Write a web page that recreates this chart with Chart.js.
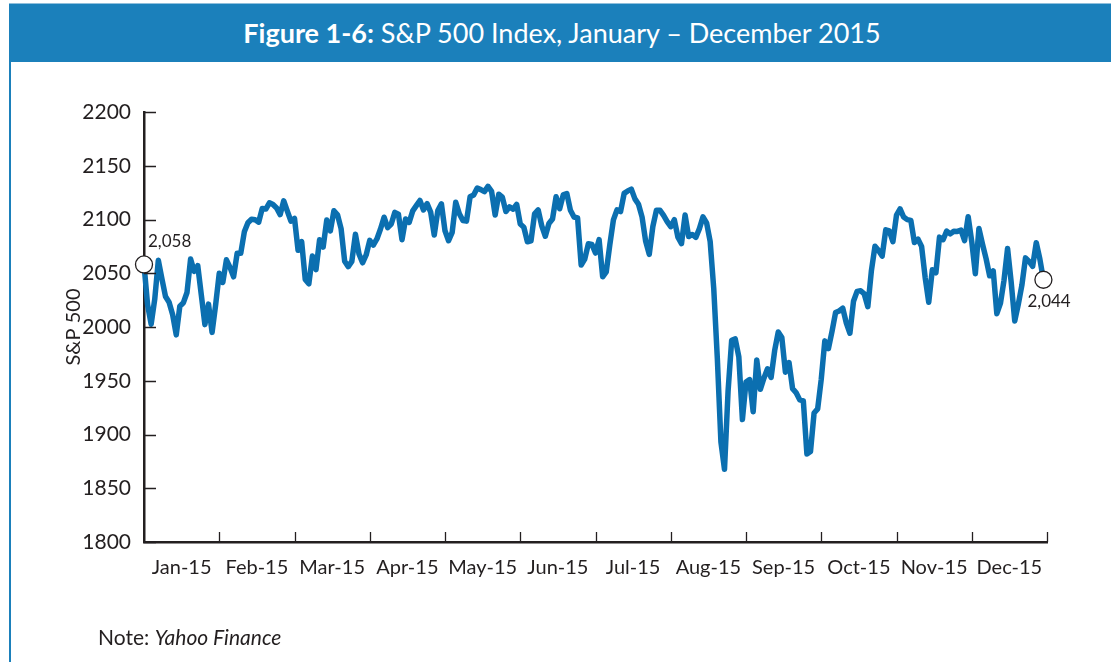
<!DOCTYPE html>
<html>
<head>
<meta charset="utf-8">
<script src="https://cdn.jsdelivr.net/npm/chart.js@4.4.1/dist/chart.umd.min.js"></script>
<style>
  html, body { margin: 0; padding: 0; background: #fff; }
  body { width: 1111px; height: 662px; position: relative; overflow: hidden; }
  #frame { position: absolute; left: 9px; top: 62px; width: 1.5px; height: 600px; background: #1b80bb; }
  #header {
    position: absolute; left: 9px; top: 3px; width: 1102px; height: 59px;
    background: #1b80bb; border-top: 1px solid #8fbfdc; box-sizing: border-box;
    color: #fff; font-family: Lato, sans-serif; font-size: 27px;
    text-align: center; line-height: 58px; padding-left: 4px;
  }
  #header b { font-weight: bold; }
  #wrap { position: absolute; left: 0; top: 62px; width: 1111px; height: 600px; }
  #note { position: absolute; left: 98px; top: 624px; font-family: Lato, sans-serif; font-size: 21px; color: #231f20; }
</style>
</head>
<body>
<div id="header"><b>Figure 1-6:</b> S&amp;P 500 Index, January – December 2015</div>
<div id="frame"></div>
<div id="wrap"><canvas id="chart" width="1111" height="600"></canvas></div>
<div id="note">Note: <i>Yahoo Finance</i></div>
<script>
// month labels, one every 21 trading days
const monthLabels = ['Jan-15', 'Feb-15', 'Mar-15', 'Apr-15', 'May-15', 'Jun-15',
  'Jul-15', 'Aug-15', 'Sep-15', 'Oct-15', 'Nov-15', 'Dec-15'];
const daysPerTick = 21;
const yTicks = [1800, 1850, 1900, 1950, 2000, 2050, 2100, 2150, 2200];

// daily closes
const jan = [2058.2, 2020.6, 2002.6, 2025.9, 2062.1, 2044.8, 2028.3, 2023.0, 2011.3, 1992.7,
  2019.4, 2022.6, 2032.1, 2063.2, 2051.8, 2057.1, 2029.6, 2002.2, 2021.3, 1995.0];
const feb = [2020.9, 2050.0, 2041.5, 2062.5, 2055.5, 2046.7, 2068.6, 2068.5, 2088.5, 2097.0,
  2100.3, 2099.7, 2097.5, 2110.3, 2109.7, 2115.5, 2113.9, 2110.7, 2104.5];
const mar = [2117.4, 2107.8, 2098.5, 2101.0, 2071.3, 2079.4, 2044.2, 2040.2, 2066.0, 2053.4,
  2081.2, 2074.3, 2099.5, 2089.3, 2108.1, 2104.4, 2091.5, 2061.1, 2056.2, 2061.0, 2086.2, 2067.9];
const apr = [2059.7, 2067.0, 2080.6, 2076.3, 2081.9, 2091.2, 2102.1, 2092.4, 2095.8, 2106.6,
  2105.0, 2081.2, 2100.4, 2097.3, 2108.0, 2112.9, 2117.7, 2108.9, 2114.8, 2106.9, 2085.5];
const may = [2108.3, 2114.5, 2089.5, 2080.2, 2088.0, 2116.1, 2105.3, 2099.1, 2098.5, 2121.1,
  2122.7, 2129.2, 2127.8, 2125.9, 2130.8, 2126.1, 2104.2, 2123.5, 2120.8, 2107.4];
const jun = [2111.7, 2109.6, 2114.1, 2095.8, 2092.8, 2079.3, 2080.2, 2105.2, 2108.9, 2094.1,
  2084.4, 2096.3, 2100.4, 2121.2, 2110.0, 2122.9, 2124.2, 2108.6, 2102.3, 2101.5, 2057.6, 2063.1];
const jul = [2077.4, 2076.8, 2068.8, 2081.3, 2046.7, 2051.3, 2076.6, 2099.6, 2109.0, 2107.4,
  2124.3, 2126.6, 2128.3, 2119.2, 2114.2, 2102.2, 2079.7, 2067.6, 2093.3, 2108.6, 2108.6, 2103.8];
const aug = [2098.0, 2093.3, 2099.8, 2083.6, 2077.6, 2104.2, 2084.1, 2086.1, 2083.4, 2091.5,
  2102.4, 2096.9, 2079.6, 2035.7, 1970.9, 1893.2, 1867.6, 1940.5, 1987.7, 1988.9, 1972.2];
const sep = [1913.9, 1948.9, 1951.1, 1921.2, 1969.4, 1942.0, 1952.3, 1961.1, 1953.0, 1978.1,
  1995.3, 1990.2, 1958.0, 1967.0, 1942.7, 1938.8, 1932.2, 1931.3, 1881.8, 1884.1, 1920.0];
const oct = [1923.8, 1951.4, 1987.1, 1979.9, 1995.8, 2013.4, 2014.9, 2017.5, 2003.7, 1994.2,
  2023.9, 2033.1, 2033.7, 2030.8, 2018.9, 2052.5, 2075.2, 2071.2, 2065.9, 2090.4, 2089.4, 2079.4];
const nov = [2104.1, 2109.8, 2102.3, 2099.9, 2099.2, 2078.6, 2081.7, 2075.0, 2046.0, 2023.0,
  2053.2, 2050.4, 2083.6, 2081.2, 2089.2, 2086.6, 2089.1, 2088.9, 2090.1, 2080.4];
const dec = [2102.6, 2079.5, 2049.6, 2091.7, 2077.1, 2063.6, 2047.6, 2052.2, 2012.4, 2021.9,
  2043.4, 2073.1, 2041.9, 2005.6, 2021.2, 2039.0, 2064.3, 2061.0, 2056.5, 2078.4, 2063.4, 2043.94];

const closes = [].concat(jan, feb, mar, apr, may, jun, jul, aug, sep, oct, nov, dec);
const points = closes.map((v, i) => ({ x: i, y: v }));
const lastIdx = closes.length - 1;

const ink = '#231f20';
const lineBlue = '#0b6fb0';
const labelFont = "Lato, sans-serif";

// inward tick marks plus the two end labels
const extras = {
  id: 'extras',
  afterDatasetsDraw(chart) {
    const { ctx, chartArea, scales: { x, y } } = chart;
    ctx.save();
    ctx.strokeStyle = ink;
    ctx.lineWidth = 1.3;
    ctx.beginPath();
    for (let k = 1; k <= monthLabels.length; k++) {
      const px = Math.round(x.getPixelForValue(k * daysPerTick)) + 0.5;
      ctx.moveTo(px, chartArea.bottom);
      ctx.lineTo(px, chartArea.bottom - 10);
    }
    yTicks.forEach(v => {
      const py = Math.round(y.getPixelForValue(v)) + 0.5;
      ctx.moveTo(chartArea.left, py);
      ctx.lineTo(chartArea.left + 12, py);
    });
    ctx.stroke();

    ctx.fillStyle = ink;
    ctx.font = "17px Lato, sans-serif";
    ctx.textBaseline = 'middle';
    const fmt = v => Math.round(v).toLocaleString('en-US');
    const meta = chart.getDatasetMeta(0).data;
    const p0 = meta[0], p1 = meta[lastIdx];
    ctx.textAlign = 'left';
    ctx.fillText(fmt(closes[0]), p0.x + 4, p0.y - 23);
    ctx.fillText(fmt(closes[lastIdx]), p1.x - 16, p1.y + 22);
    ctx.restore();
  }
};

new Chart(document.getElementById('chart'), {
  type: 'line',
  data: {
    datasets: [{
      data: points,
      borderColor: lineBlue,
      borderWidth: 5.5,
      tension: 0,
      clip: false,
      borderJoinStyle: 'round',
      pointRadius: ctx => (ctx.dataIndex === 0 || ctx.dataIndex === lastIdx) ? 8.5 : 0,
      pointBackgroundColor: '#fff',
      pointBorderColor: ink,
      pointBorderWidth: 1.3,
      pointHoverRadius: 0
    }]
  },
  options: {
    responsive: false,
    animation: false,
    events: [],
    layout: { padding: { top: 50, right: 64, left: 0, bottom: 0 } },
    plugins: { legend: { display: false }, tooltip: { enabled: false } },
    scales: {
      x: {
        type: 'linear',
        min: 0,
        max: daysPerTick * monthLabels.length,
        afterBuildTicks: axis => {
          axis.ticks = monthLabels.map((_, i) => ({ value: i * daysPerTick + daysPerTick / 2 }));
        },
        afterFit: axis => { axis.height = 120; },
        grid: { display: false },
        border: { display: true, color: ink, width: 2.5 },
        ticks: {
          autoSkip: false, maxRotation: 0, padding: 6, color: ink,
          font: { family: labelFont, size: 20 },
          callback: (v, i) => monthLabels[i]
        }
      },
      y: {
        min: 1800,
        max: 2200,
        afterBuildTicks: axis => { axis.ticks = yTicks.map(v => ({ value: v })); },
        afterFit: axis => { axis.width = 144; },
        grid: { display: false },
        border: { display: true, color: ink, width: 2.5 },
        ticks: {
          padding: 5, color: ink,
          font: { family: labelFont, size: 21 },
          callback: v => String(v)
        },
        title: {
          display: true, text: 'S&P 500', color: ink,
          font: { family: labelFont, size: 20 },
          padding: { top: 62, bottom: 0 }
        }
      }
    }
  },
  plugins: [extras]
});
</script>
</body>
</html>
